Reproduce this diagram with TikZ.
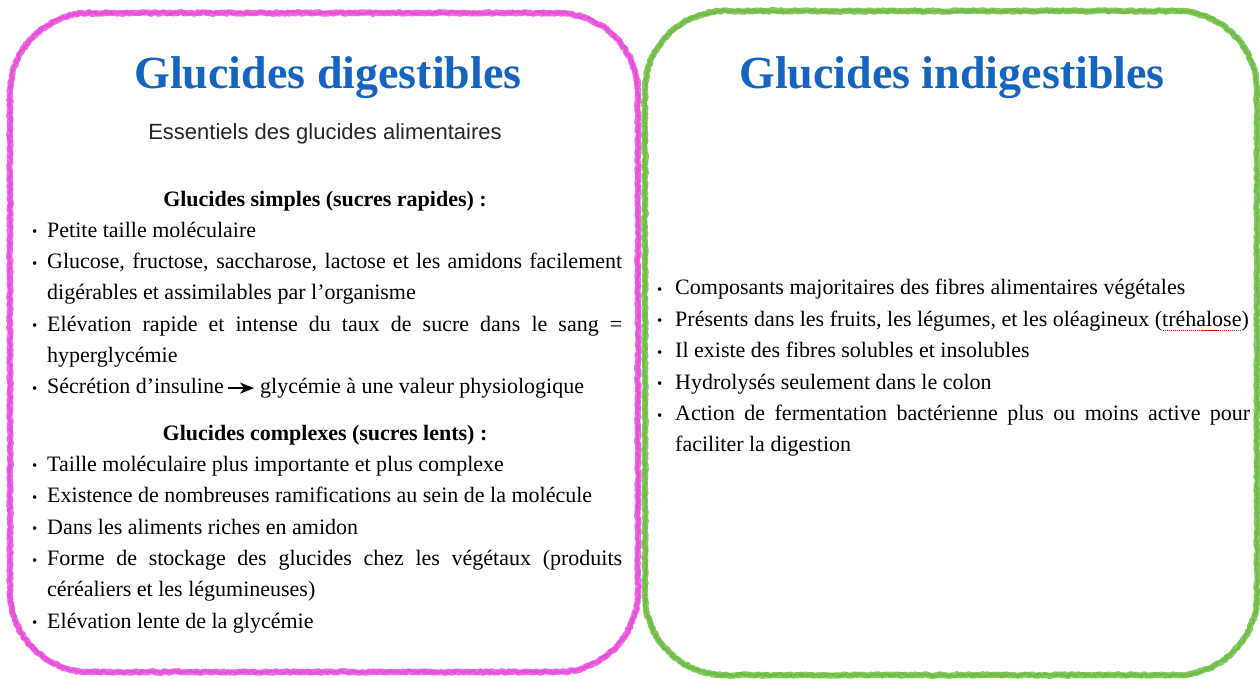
\documentclass[tikz,border=0pt]{standalone}
\usepackage{fontspec}
\setmainfont{Liberation Serif}
\setsansfont{Liberation Sans}
\usetikzlibrary{positioning,arrows.meta,decorations.pathmorphing}
\definecolor{crayonpink}{RGB}{232,80,218}
\definecolor{crayongreen}{RGB}{112,190,70}
\definecolor{titleblue}{RGB}{20,100,192}
\hyphenpenalty=10000
\exhyphenpenalty=10000
\tolerance=9999
\newsavebox{\motbox}
\newcommand{\puce}[1]{\noindent\strut\llap{\makebox[#1][l]{\raisebox{0.5pt}{\fontsize{15}{15}\selectfont\textbullet}}}}
\newcommand{\fleche}{\tikz[baseline=-5.5pt]\draw[line width=1.3pt,-{Stealth[length=14pt,width=11pt,inset=4pt]}] (0pt,0pt) -- (26pt,0pt);}
\newcommand{\soulignerouge}[1]{\sbox{\motbox}{#1}\rlap{\usebox{\motbox}}\raisebox{-4.5pt}{\textcolor{red}{\hbox to \wd\motbox{\xleaders\hbox to 2pt{\hss\rule{1.3pt}{1.3pt}\hss}\hfill}}}}

\begin{document}
\begin{tikzpicture}[
  x=1pt, y=-1pt,
  crayon/.style={line width=6pt, line join=round, decorate,
    decoration={random steps, segment length=2pt, amplitude=0.9pt}},
  grain/.style={line width=2.5pt, line join=round, decorate,
    decoration={random steps, segment length=1.5pt, amplitude=1.6pt}},
  titre/.style={font=\fontsize{46}{54}\selectfont\bfseries, text=titleblue, inner sep=0pt},
  sous/.style={font=\sffamily\fontsize{22}{26}\selectfont, text=black!85, inner sep=0pt},
  rubrique/.style={font=\fontsize{22}{31}\selectfont\bfseries, inner sep=0pt, anchor=base},
  item/.style={font=\fontsize{22}{31}\selectfont, text width=575pt, align=justify,
    inner sep=0pt, anchor=north west, execute at begin node={\puce{#1}},
    execute at end node=\strut},
  item/.default=15pt
]
\useasboundingbox (0,0) rectangle (1260,678);
\foreach \couche/\teinte in {crayon/crayonpink!85, grain/crayonpink}
  \draw [\couche, \teinte] (90,13) -- (558,13) arc [start angle=90, end angle=0, radius=80pt]
    -- (638,592) arc [start angle=0, end angle=-90, radius=80pt]
    -- (90,672) arc [start angle=-90, end angle=-180, radius=80pt]
    -- (10,93) arc [start angle=180, end angle=90, radius=80pt] -- cycle;
\foreach \couche/\teinte in {crayon/crayongreen!85, grain/crayongreen}
  \draw [\couche, \teinte] (725,11) -- (1177,11) arc [start angle=90, end angle=0, radius=80pt]
    -- (1257,595) arc [start angle=0, end angle=-90, radius=80pt]
    -- (725,675) arc [start angle=-90, end angle=-180, radius=80pt]
    -- (645,91) arc [start angle=180, end angle=90, radius=80pt] -- cycle;

\node [titre] (td) at (328,78) {Glucides digestibles};
\node [titre] (ti) at (952,78) {Glucides indigestibles};
\node [sous] (ess) at (325,134) {Essentiels des glucides alimentaires};

\node [rubrique] (hs) at (325,206) {\strut Glucides simples (sucres rapides) :};
\coordinate (gauche) at (47,0);
\node [item] (s1) at (hs.south -| gauche) {Petite taille moléculaire};
\node [item] (s2) at (s1.south west) {Glucose, fructose, saccharose, lactose et les amidons facilement digérables et assimilables par l’organisme};
\node [item] (s3) at (s2.south west) {Elévation rapide et intense du taux de sucre dans le sang = hyperglycémie};
\node [item] (s4) at (s3.south west) {Sécrétion d’insuline\,\fleche\ glycémie à une valeur physiologique};

\node [rubrique] (hc) at (325,440) {\strut Glucides complexes (sucres lents) :};
\node [item] (c1) at (hc.south -| gauche) {Taille moléculaire plus importante et plus complexe};
\node [item] (c2) at (c1.south west) {Existence de nombreuses ramifications au sein de la molécule};
\node [item] (c3) at (c2.south west) {Dans les aliments riches en amidon};
\node [item] (c4) at (c3.south west) {Forme de stockage des glucides chez les végétaux (produits céréaliers et les légumineuses)};
\node [item] (c5) at (c4.south west) {Elévation lente de la glycémie};

\node [item=18pt] (f1) at (675,273) {Composants majoritaires des fibres alimentaires végétales};
\node [item=18pt] (f2) at (f1.south west) {Présents dans les fruits, les légumes, et les oléagineux (\soulignerouge{tréhalose})};
\node [item=18pt] (f3) at (f2.south west) {Il existe des fibres solubles et insolubles};
\node [item=18pt] (f4) at (f3.south west) {Hydrolysés seulement dans le colon};
\node [item=18pt] (f5) at (f4.south west) {Action de fermentation bactérienne plus ou moins active pour faciliter la digestion};
\end{tikzpicture}
\end{document}
